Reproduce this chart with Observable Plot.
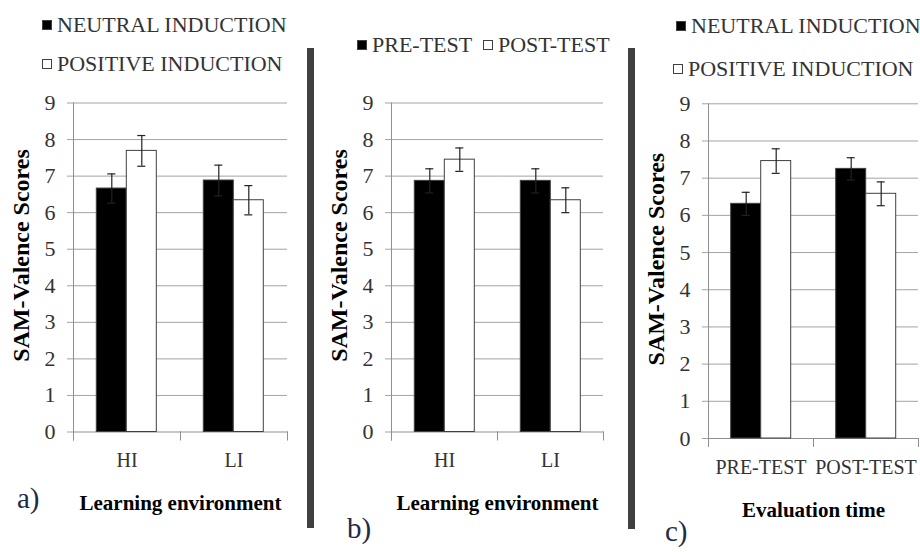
<!DOCTYPE html>
<html><head><meta charset="utf-8">
<script src="https://cdn.jsdelivr.net/npm/d3@7"></script>
<script src="https://cdn.jsdelivr.net/npm/@observablehq/plot@0.6"></script>
<style>
body{margin:0;background:#fff;}
#root{position:relative;width:920px;height:552px;overflow:hidden;background:#fff;font-family:'Liberation Serif','DejaVu Serif',serif;}
.panel{position:absolute;top:0;}
.panel svg{overflow:visible;}
.sep{position:absolute;background:#404040;width:7px;top:48px;}
.leg{position:absolute;font-size:22px;color:#333;white-space:nowrap;line-height:1;display:flex;align-items:center;}
.sw{display:inline-block;width:10px;height:10px;box-sizing:border-box;border:1px solid #404040;margin-right:5px;}
.tag{position:absolute;font-size:29px;color:#1f2a48;line-height:1;}
svg [aria-label="fx-axis label"] text, svg [aria-label="fx-axis label"]{font-weight:bold;fill:#000;font-size:21px;}
svg [aria-label="y-axis label"] text, svg [aria-label="y-axis label"]{font-weight:bold;fill:#000;font-size:24px;}
svg [aria-label="y-axis label"]{translate:0 -12px;}
</style></head>
<body><div id="root"></div>
<script>
// ---- data ----
const yTicks = [0,1,2,3,4,5,6,7,8,9];
const yTitle = "SAM-Valence Scores";

const aCategories = ["HI", "LI"];
const aSeries = ["NEUTRAL INDUCTION", "POSITIVE INDUCTION"];
const aNeutral = [6.66, 6.88];
const aPositive = [7.69, 6.34];
const aNeutralErr = [0.40, 0.42];
const aPositiveErr = [0.42, 0.40];
const aTitle = "Learning environment";

const bCategories = ["HI", "LI"];
const bSeries = ["PRE-TEST", "POST-TEST"];
const bPre = [6.87, 6.87];
const bPost = [7.45, 6.34];
const bPreErr = [0.33, 0.33];
const bPostErr = [0.32, 0.34];
const bTitle = "Learning environment";

const cCategories = ["PRE-TEST", "POST-TEST"];
const cSeries = ["NEUTRAL INDUCTION", "POSITIVE INDUCTION"];
const cNeutral = [6.31, 7.25];
const cPositive = [7.46, 6.58];
const cNeutralErr = [0.31, 0.30];
const cPositiveErr = [0.33, 0.32];
const cTitle = "Evaluation time";

const root = document.getElementById("root");
const FONT = "'Liberation Serif', 'DejaVu Serif', serif";

function panel({cats, series, vals, errs, xTitle, left, width, marginLeft, marginRight, top9, bottom0}) {
  const data = [];
  cats.forEach((c, i) => series.forEach((s, j) => data.push({cat: c, ser: s, v: vals[j][i], e: errs[j][i]})));
  const frameH = bottom0 - top9;
  const axisGray = "#8f8f8f";
  const chart = Plot.plot({
    width, height: 552,
    marginLeft, marginRight, marginTop: top9, marginBottom: 552 - bottom0,
    style: {background: "transparent", fontFamily: FONT, fontSize: "21px", color: "#333", overflow: "visible"},
    fx: {domain: cats, padding: 0},
    x: {domain: series, paddingInner: 0, paddingOuter: 0.75, axis: null},
    y: {domain: [0, 9], axis: null},
    color: {domain: series, range: ["#000000", "#ffffff"]},
    marks: [
      Plot.gridY(yTicks.filter(d => d > 0), {stroke: "#a3a3a3", strokeOpacity: 1}),
      Plot.frame({anchor: "bottom", stroke: axisGray}),
      Plot.frame({anchor: "left", stroke: axisGray, insetTop: frameH, insetBottom: -8}),
      Plot.frame({anchor: "right", stroke: axisGray, insetTop: frameH, insetBottom: -8, facetAnchor: "right"}),
      Plot.frame({anchor: "left", stroke: axisGray, insetBottom: -8, facetAnchor: "left"}),
      Plot.barY(data, {fx: "cat", x: "ser", y: "v", fill: "ser", stroke: "#404040", strokeWidth: 1}),
      Plot.ruleX(data, {fx: "cat", x: "ser", y1: d => d.v - d.e, y2: d => d.v + d.e, stroke: "#222", strokeWidth: 1.2}),
      Plot.tickY(data, {fx: "cat", x: "ser", y: d => d.v + d.e, stroke: "#222", strokeWidth: 1.2, insetLeft: 11, insetRight: 11}),
      Plot.tickY(data, {fx: "cat", x: "ser", y: d => d.v - d.e, stroke: "#222", strokeWidth: 1.2, insetLeft: 11, insetRight: 11}),
      Plot.axisY(yTicks, {fontSize: 22, tickSize: 6, tickPadding: 12, stroke: "#a3a3a3", fill: "#333", tickFormat: d => String(d), label: yTitle, labelArrow: "none", labelAnchor: "center", labelOffset: 62}),
      Plot.axisFx({anchor: "bottom", fontSize: 20, tickSize: 0, tickPadding: 21, fill: "#333", label: xTitle, labelArrow: "none", labelAnchor: "center", labelOffset: 78})
    ]
  });
  const wrap = document.createElement("div");
  wrap.className = "panel";
  wrap.style.left = left + "px";
  wrap.appendChild(chart);
  root.appendChild(wrap);
}

panel({cats: aCategories, series: aSeries, vals: [aNeutral, aPositive], errs: [aNeutralErr, aPositiveErr], xTitle: aTitle,
  left: 0, width: 300, marginLeft: 72.7, marginRight: 13, top9: 102.5, bottom0: 431.5});
panel({cats: bCategories, series: bSeries, vals: [bPre, bPost], errs: [bPreErr, bPostErr], xTitle: bTitle,
  left: 316, width: 300, marginLeft: 74.7, marginRight: 12.7, top9: 102.5, bottom0: 431.5});
panel({cats: cCategories, series: cSeries, vals: [cNeutral, cPositive], errs: [cNeutralErr, cPositiveErr], xTitle: cTitle,
  left: 637, width: 283, marginLeft: 70.3, marginRight: 2, top9: 103.3, bottom0: 438});

// separators
[[307, 480], [628, 481]].forEach(([x, h]) => {
  const s = document.createElement("div");
  s.className = "sep"; s.style.left = x + "px"; s.style.height = h + "px";
  root.appendChild(s);
});

// legends
function legendItem(label, fill, left, top) {
  const d = document.createElement("div");
  d.className = "leg"; d.style.left = left + "px"; d.style.top = top + "px";
  const sw = document.createElement("span");
  sw.className = "sw"; sw.style.background = fill;
  d.appendChild(sw);
  d.appendChild(document.createTextNode(label));
  root.appendChild(d);
}
legendItem(aSeries[0], "#000", 42, 14);
legendItem(aSeries[1], "#fff", 42, 53);
legendItem(bSeries[0], "#000", 357, 34);
legendItem(bSeries[1], "#fff", 483, 34);
legendItem(cSeries[0], "#000", 676, 14.5);
legendItem(cSeries[1], "#fff", 673, 58);

// panel tags
[["a)", 17, 484], ["b)", 347, 514], ["c)", 665, 517]].forEach(([t, x, y]) => {
  const d = document.createElement("div");
  d.className = "tag"; d.style.left = x + "px"; d.style.top = y + "px";
  d.textContent = t;
  root.appendChild(d);
});
</script>
</body></html>
